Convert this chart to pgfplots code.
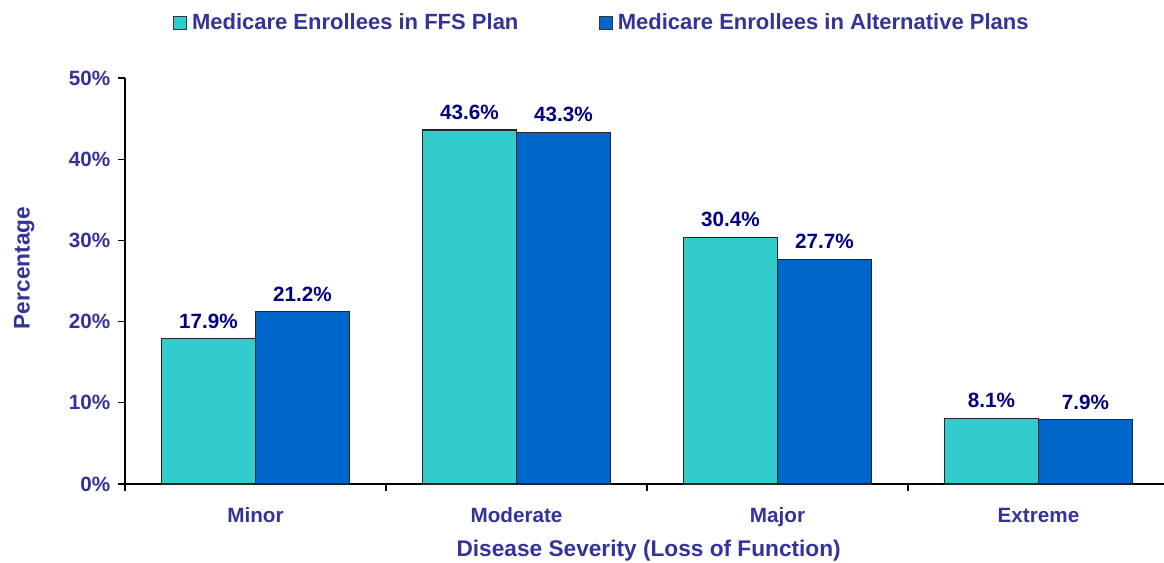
\documentclass[border=0pt]{standalone}
\usepackage{pgfplots}
\pgfplotsset{compat=1.18}
\usepackage{fontspec}
\setmainfont{Liberation Sans}
\definecolor{txtblue}{RGB}{51,51,153}
\definecolor{lblnavy}{RGB}{0,0,128}
\definecolor{ffs}{RGB}{51,204,204}
\definecolor{alt}{RGB}{0,102,204}
\begin{document}
\begin{tikzpicture}
\begin{axis}[
  scale only axis,
  width=779.25pt, height=304.5pt,
  xmin=-0.5, xmax=3.481,
  ymin=0, ymax=50,
  ybar=0pt, bar width=70.5pt,
  axis lines=left,
  axis line style={-, black, line width=0.8pt},
  tick align=outside,
  major tick length=5pt,
  tick style={black, line width=0.8pt},
  xtick={-0.5,0.5,1.5,2.5},
  xticklabels={},
  extra x ticks={0,1,2,3},
  extra x tick labels={Minor,Moderate,Major,Extreme},
  extra x tick style={major tick length=0pt, tick label style={yshift=-14pt, text height=11.2pt, text depth=3pt}},
  ytick={0,10,20,30,40,50},
  yticklabel={\pgfmathprintnumber{\tick}\%},
  yticklabel style={xshift=-2.5pt},
  /pgf/number format/assume math mode=true,
  tick label style={font=\bfseries\fontsize{15.5}{18}\selectfont, text=txtblue},
  xlabel={Disease Severity (Loss of Function)},
  ylabel={Percentage},
  every axis x label/.style={at={(axis description cs:0.504,-0.163)}, anchor=center, font=\bfseries\fontsize{17}{20}\selectfont, text=txtblue},
  every axis y label/.style={at={(axis description cs:-0.097,0.532)}, anchor=center, rotate=90, font=\bfseries\fontsize{17}{20}\selectfont, text=txtblue},
  nodes near coords={\pgfmathprintnumber[fixed,fixed zerofill,precision=1]{\pgfplotspointmeta}\%},
  every node near coord/.append style={font=\bfseries\fontsize{15.5}{18}\selectfont, text=lblnavy, yshift=4pt},
  legend columns=2,
  legend style={draw=none, fill=none, inner sep=0pt, at={(axis description cs:0.0462,1.136)}, anchor=west,
    font=\bfseries\fontsize{16.5}{19}\selectfont, text=txtblue,
    /tikz/every even column/.append style={column sep=57pt},
    nodes={inner sep=3.5pt}},
  legend image code/.code={\draw[#1, draw=black!80, line width=0.8pt] (0pt,-4.9pt) rectangle (9.75pt,4.9pt);},
]
\addplot[fill=ffs, draw=black!85, line width=0.8pt] coordinates {(0,17.9) (1,43.6) (2,30.4) (3,8.1)};
\addplot[fill=alt, draw=black!85, line width=0.8pt] coordinates {(0,21.2) (1,43.3) (2,27.7) (3,7.9)};
\legend{Medicare Enrollees in FFS Plan, Medicare Enrollees in Alternative Plans}
\end{axis}
\pgfresetboundingbox
\useasboundingbox (-93.75pt,-58.5pt) rectangle (779.25pt,363pt);
\end{tikzpicture}
\end{document}
